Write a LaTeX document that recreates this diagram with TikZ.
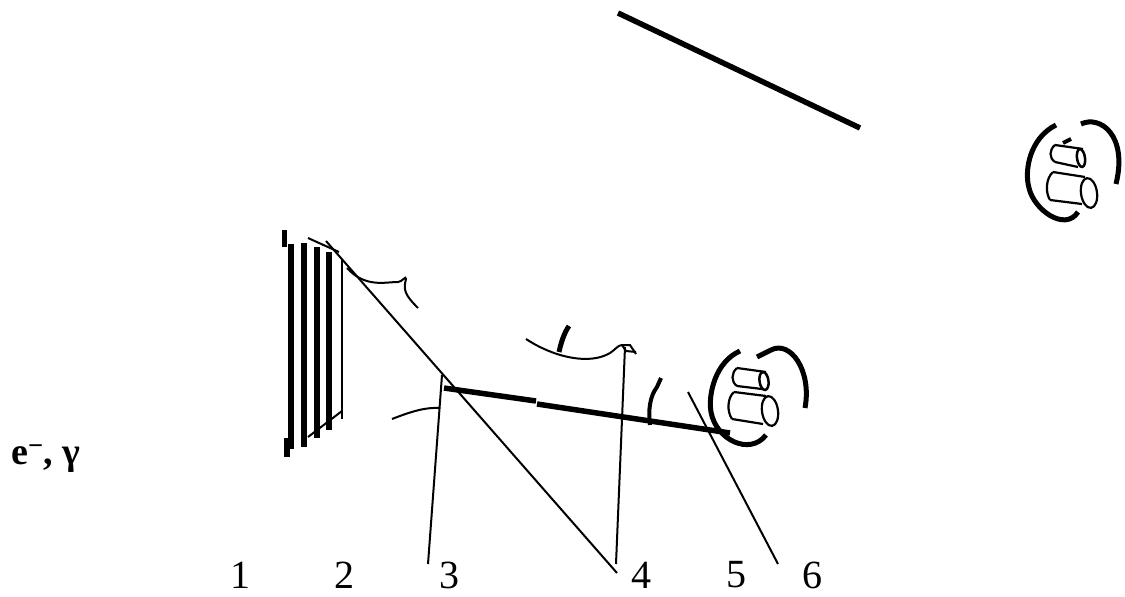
\documentclass[tikz,border=0pt]{standalone}
\usepackage{fontspec}
\setmainfont{Liberation Serif}
\usepackage{tikz}

\begin{document}
\begin{tikzpicture}[
  x=1pt, y=-1pt,
  plate/.style ={line width=6pt},
  tab/.style   ={line width=5.5pt},
  wire/.style  ={line width=2pt},
  bar/.style   ={line width=5.5pt},
  ring/.style  ={line width=5pt},
  cyl/.style   ={line width=2.2pt},
  numlab/.style={font=\fontsize{40}{40}\selectfont, inner sep=0pt},
  beamlab/.style={font=\fontsize{38}{38}\selectfont\bfseries, inner sep=0pt},
]
\useasboundingbox (0,0) rectangle (1125,597);
% top mirror
\draw[bar] (618,13) -- (860,128);
% plates
\draw[tab] (284.5,230) -- (284.5,247);
\draw[tab] (287,438) -- (287,457);
\draw[plate] (291,244) -- (291,449);
\draw[plate] (303.7,243) -- (303.7,447);
\draw[plate] (316.7,247) -- (316.7,438);
\draw[plate] (329.3,252) -- (329.3,430);
\draw[line width=2.5pt] (342,260) -- (342,419);
\draw[wire] (308,238) -- (339,252);
\draw[wire] (308,437) -- (342,411);
% leader lines
\draw[wire] (326,241) -- (617,573);
\draw[wire] (442,375) -- (428,564);
\draw[wire] (625,347) -- (616,564);
\draw[wire] (688,392) -- (778,564);
% curves
\draw[wire] (347,268) .. controls (365,288) and (385,282) .. (398,282) .. controls (402,282) and (406,275) .. (406,279) .. controls (403,290) and (405,295) .. (418,308);
\draw[wire] (392,419) .. controls (410,412) and (425,407) .. (440,408);
\draw[wire] (526,339) .. controls (555,358) and (590,365) .. (610,353) .. controls (615,350) and (618,345) .. (622,345) -- (630,345) -- (636,354);
\draw[wire] (622,345) -- (626,351) -- (636,352);
% bars
\draw[bar] (444,388) -- (536,401);
\draw[bar] (537,404) -- (730,433);
% small arcs
\draw[line width=5pt] (569,326) .. controls (564,333) and (561,343) .. (559,352);
\draw[line width=4pt] (661,378) -- (657,387) .. controls (650,396) and (648,410) .. (650,425);
% lower detector
\draw[ring] (740,351) .. controls (715,362) and (708,395) .. (711,412) .. controls (716,440) and (750,456) .. (766,435);
\draw[ring] (757,357) -- (771,350) .. controls (790,340) and (812,370) .. (805,408);
\draw[cyl] (737,368) -- (766,372);
\draw[cyl] (737,386) -- (762,389);
\draw[cyl] (737,368) .. controls (731,373) and (731,382) .. (737,386);
\draw[line width=2.5pt, rotate around={8:(764,381)}] (764,381) ellipse (4.5 and 9);
\draw[cyl] (734,392) -- (766,396);
\draw[cyl] (732,419) -- (763,424);
\draw[cyl] (734,392) .. controls (727,398) and (727,412) .. (732,419);
\draw[cyl, rotate around={8:(770,411)}] (770,411) ellipse (8 and 15);
% upper detector
\draw[ring] (1056,125) .. controls (1030,138) and (1024,170) .. (1029,188) .. controls (1034,210) and (1065,232) .. (1078,212);
\draw[ring] (1081,124) .. controls (1100,115) and (1128,135) .. (1116,184);
\draw[cyl] (1055,145) -- (1083,149);
\draw[cyl] (1055,162) -- (1078,167);
\draw[cyl] (1055,145) .. controls (1049,150) and (1049,158) .. (1055,162);
\draw[line width=2.5pt, rotate around={8:(1081,158)}] (1081,158) ellipse (4 and 9);
\draw[line width=4pt] (1063,143) -- (1071,139);
\draw[cyl] (1053,172) -- (1085,177);
\draw[cyl] (1050,200) -- (1082,204);
\draw[cyl] (1053,172) .. controls (1046,178) and (1045,192) .. (1050,200);
\draw[cyl, rotate around={8:(1089,193)}] (1089,193) ellipse (8 and 15);
% labels
\node[numlab] (lab1) at (240,575) {1};
\node[numlab] (lab2) at (344,575) {2};
\node[numlab] (lab3) at (449,575) {3};
\node[numlab] (lab4) at (641,575) {4};
\node[numlab] (lab5) at (736,575) {5};
\node[numlab] (lab6) at (812,575) {6};
\node[beamlab, anchor=base west] (beam) at (11,464) {e\textsuperscript{−}, γ};
\end{tikzpicture}
\end{document}
